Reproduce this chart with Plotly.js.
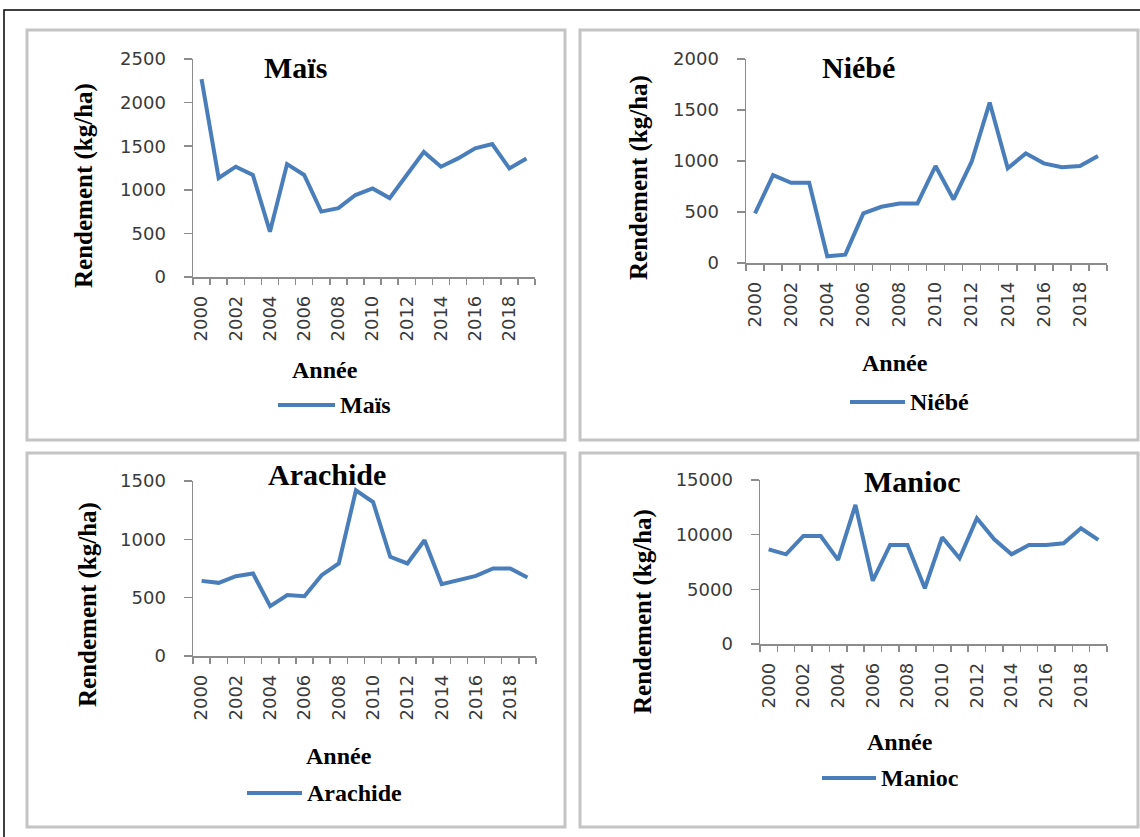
<!DOCTYPE html>
<html>
<head>
<meta charset="utf-8">
<script src="https://cdn.plot.ly/plotly-3.0.1.min.js"></script>
<style>html,body{margin:0;padding:0;background:#fff;}#chart{width:1140px;height:837px;}</style>
</head>
<body>
<div id="chart"></div>
<script>
// ---- data ----
const years = [2000,2001,2002,2003,2004,2005,2006,2007,2008,2009,2010,2011,2012,2013,2014,2015,2016,2017,2018,2019];
const yearTicks = [2000,2002,2004,2006,2008,2010,2012,2014,2016,2018];
const mais     = [2270,1135,1265,1170,520,1295,1170,750,790,940,1015,905,1170,1435,1265,1360,1475,1525,1245,1360];
const niebe    = [486,862,787,787,66,82,486,551,584,584,951,623,993,1573,928,1075,977,938,951,1049];
const arachide = [644,627,684,707,428,522,513,693,793,1420,1320,850,793,992,616,650,687,750,750,673];
const manioc   = [8660,8200,9880,9880,7690,12720,5790,9060,9060,5100,9760,7840,11500,9580,8200,9060,9060,9210,10590,9520];
const cropNames = ["Maïs","Niébé","Arachide","Manioc"];
const yTitle = "Rendement (kg/ha)";
const xTitle = "Année";

// ---- layout helpers ----
const W = 1140, H = 837;
const px = x => x / W;
const py = y => 1 - y / H;
const blue = "#4a7ebb";
const tickFont = {family: "DejaVu Sans", size: 18, color: "#3a3a3a"};
const serifBold = s => ({family: "Liberation Serif", size: s, color: "#000", weight: 700});

const panels = [
  {vals: mais,     ymax: 2500, dt: 500,  dom: [193, 535, 59, 277],
   title: [296, 67], ytitle: [84, 185], xt: [325, 370], leg: [278, 335, 405]},
  {vals: niebe,    ymax: 2000, dt: 500,  dom: [746, 1107, 59, 263],
   title: [858, 67], ytitle: [639, 178], xt: [895, 363], leg: [850, 905, 402]},
  {vals: arachide, ymax: 1500, dt: 500,  dom: [193, 536, 481, 656],
   title: [327, 474], ytitle: [88, 605], xt: [339, 756], leg: [247, 302, 793]},
  {vals: manioc,   ymax: 15000, dt: 5000, dom: [760, 1107, 480, 644],
   title: [912, 481], ytitle: [643, 612], xt: [900, 742], leg: [822, 876, 778]}
];

const traces = [];
const layout = {
  width: W, height: H,
  margin: {l: 0, r: 0, t: 0, b: 0},
  paper_bgcolor: "#fff", plot_bgcolor: "rgba(0,0,0,0)",
  showlegend: false,
  annotations: [],
  shapes: []
};

// outer frame and panel borders
layout.shapes.push({type: "rect", xref: "paper", yref: "paper",
  x0: px(4), x1: px(1150), y0: py(850), y1: py(10), line: {color: "#000", width: 1.5}});
const boxes = [[27, 565, 30, 440], [580, 1138, 30, 440], [27, 565, 453, 827], [580, 1138, 453, 827]];
boxes.forEach(b => layout.shapes.push({type: "rect", xref: "paper", yref: "paper",
  x0: px(b[0]), x1: px(b[1]), y0: py(b[3]), y1: py(b[2]), line: {color: "#c4c4c4", width: 3}}));

panels.forEach((p, i) => {
  const n = i === 0 ? "" : String(i + 1);
  traces.push({x: years, y: p.vals, type: "scatter", mode: "lines", name: cropNames[i],
    xaxis: "x" + n, yaxis: "y" + n, line: {color: blue, width: 4}, hoverinfo: "x+y"});
  layout["xaxis" + n] = {
    domain: [px(p.dom[0]), px(p.dom[1])], anchor: "y" + n,
    range: [1999.5, 2019.5], tickvals: yearTicks, ticktext: yearTicks.map(String),
    tickangle: -90, ticks: "", showgrid: false, zeroline: false,
    showline: true, linecolor: "#8c8c8c", linewidth: 1.5,
    tickfont: tickFont, ticklabelstandoff: 10,
    minor: {tick0: 1999.5, dtick: 1, ticks: "outside", ticklen: 6, tickcolor: "#8c8c8c", tickwidth: 1.5, showgrid: false}
  };
  layout["yaxis" + n] = {
    domain: [py(p.dom[3]), py(p.dom[2])], anchor: "x" + n,
    range: [0, p.ymax], dtick: p.dt, tick0: 0, tickformat: "d", showgrid: false, zeroline: false,
    showline: true, linecolor: "#8c8c8c", linewidth: 1.5,
    ticks: "outside", ticklen: 8, tickcolor: "#8c8c8c", tickwidth: 1.5,
    tickfont: tickFont, ticklabelstandoff: 14
  };
  // title
  layout.annotations.push({xref: "paper", yref: "paper", x: px(p.title[0]), y: py(p.title[1]),
    text: cropNames[i], showarrow: false, xanchor: "center", yanchor: "middle", font: serifBold(30)});
  // y title
  layout.annotations.push({xref: "paper", yref: "paper", x: px(p.ytitle[0]), y: py(p.ytitle[1]),
    text: yTitle, textangle: -90, showarrow: false, xanchor: "center", yanchor: "middle", font: serifBold(25)});
  // x title
  layout.annotations.push({xref: "paper", yref: "paper", x: px(p.xt[0]), y: py(p.xt[1]),
    text: xTitle, showarrow: false, xanchor: "center", yanchor: "middle", font: serifBold(24)});
  // legend
  layout.shapes.push({type: "line", xref: "paper", yref: "paper",
    x0: px(p.leg[0]), x1: px(p.leg[1]), y0: py(p.leg[2]), y1: py(p.leg[2]), line: {color: blue, width: 4}});
  layout.annotations.push({xref: "paper", yref: "paper", x: px(p.leg[1] + 3), y: py(p.leg[2]),
    text: cropNames[i], showarrow: false, xanchor: "left", yanchor: "middle", font: serifBold(24)});
});

Plotly.newPlot("chart", traces, layout, {displayModeBar: false, staticPlot: true});
</script>
</body>
</html>
